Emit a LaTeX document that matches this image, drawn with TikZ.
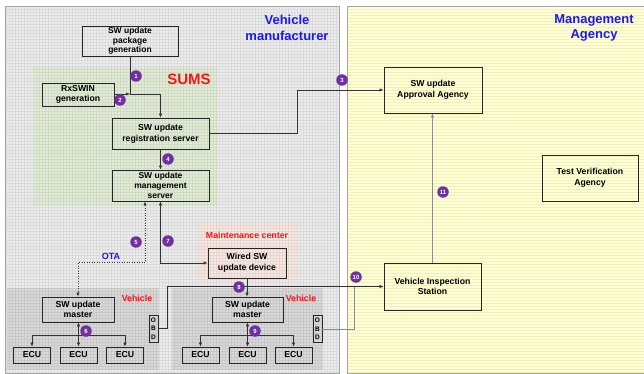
\documentclass[tikz,border=0pt]{standalone}
\usepackage{fontspec}
\setmainfont{Liberation Sans}
\usetikzlibrary{arrows.meta,calc}
\definecolor{leftbg}{HTML}{EEEEEE}
\definecolor{sumsgreen}{HTML}{E2EDD6}
\definecolor{maintpink}{HTML}{FAE9E2}
\definecolor{vehgray}{HTML}{DADADA}
\definecolor{yellowbg}{HTML}{FFFFD6}
\definecolor{numpurple}{HTML}{7030A0}
\definecolor{titleblue}{HTML}{1A1AF0}
\definecolor{redtxt}{HTML}{F01818}
\begin{document}
\begin{tikzpicture}[x=1pt,y=-1pt,
  box/.style={draw=black!85, line width=0.7pt, inner sep=0pt, align=center,
    font=\fontsize{8.7}{10.6}\selectfont\bfseries},
  box3/.style={box, font=\fontsize{8.5}{9.6}\selectfont\bfseries},
  ecu/.style={box, minimum width=37, minimum height=16},
  obd/.style={draw=black!85, line width=0.6pt, inner sep=0pt, align=center,
    minimum width=9, minimum height=27, font=\fontsize{6.5}{8.6}\selectfont\bfseries},
  num/.style={circle, fill=numpurple, inner sep=0pt, minimum size=11.5pt, text=white,
    font=\fontsize{6}{6}\selectfont\bfseries},
  arr/.style={-{Latex[length=4pt,width=3.2pt]}},
  barr/.style={{Latex[length=4pt,width=3.2pt]}-{Latex[length=4pt,width=3.2pt]}},
  conn/.style={draw=black!80, line width=0.5pt},
  gconn/.style={draw=black!45, line width=0.5pt},
  title/.style={align=center, text=titleblue, font=\fontsize{13}{15.5}\selectfont\bfseries},
  redlab/.style={text=redtxt, font=\fontsize{8.8}{9}\selectfont\bfseries},
]
\useasboundingbox (0,0) rectangle (644,374);
% ---- left panel
\fill[leftbg] (5,6) rectangle (339,373);
\fill[sumsgreen] (33,67) rectangle (218,206);
\fill[maintpink] (197,223) rectangle (298,282);
\fill[vehgray] (7,288) rectangle (159,370);
\fill[vehgray] (172,288) rectangle (323,370);
\begin{scope}
  \clip (5,6) rectangle (339,373);
  \draw[black, opacity=0.08, line width=0.3pt, step=3pt] (5,6) grid (339,373);
\end{scope}
\draw[gray!70, line width=0.6pt] (5,6) rectangle (339,373);
% ---- right panel
\fill[yellowbg] (347,6) rectangle (644,373);
\foreach \yy in {9,12,...,372} \draw[olive, opacity=0.12, line width=0.3pt] (347,\yy) -- (644,\yy);
\draw[gray!70, line width=0.6pt] (644,6) -- (347,6) -- (347,373) -- (644,373);

% ---- titles
\node[title] (tvm) at (287,28) {Vehicle\\manufacturer};
\node[title] (tma) at (594,28) {Management\\Agency};
\node[text=redtxt, font=\fontsize{15}{16}\selectfont\bfseries] (sums) at (189,79) {SUMS};
\node[redlab] (mc) at (247,235) {Maintenance center};
\node[redlab] (veh1) at (137,298) {Vehicle};
\node[redlab] (veh2) at (301,298) {Vehicle};
\node[text=titleblue, font=\fontsize{9}{9}\selectfont\bfseries] (ota) at (111,256) {OTA};

% ---- boxes
\node[box3, minimum width=96, minimum height=30] (pkg) at (130,41) {SW update\\package\\generation};
\node[box, minimum width=72, minimum height=23] (rx) at (78,94.5) {RxSWIN\\generation};
\node[box, minimum width=97, minimum height=31] (reg) at (160.5,133.5) {SW update\\registration server};
\node[box3, minimum width=97, minimum height=31] (mgmt) at (160.5,185.5) {SW update\\management\\server};
\node[box, minimum width=98, minimum height=46] (appr) at (433,90) {SW update\\Approval Agency};
\node[box, minimum width=96, minimum height=46] (tva) at (590,178) {Test Verification\\Agency};
\node[box, minimum width=97, minimum height=47] (vis) at (432.5,286.5) {Vehicle Inspection\\Station};
\node[box, minimum width=78, minimum height=30] (wired) at (247,263) {Wired SW\\update device};
\node[box, minimum width=72, minimum height=25] (m1) at (78,309.5) {SW update\\master};
\node[box, minimum width=71, minimum height=25] (m2) at (247.5,309.5) {SW update\\master};
\node[obd] (obd1) at (153.5,328.5) {O\\B\\D};
\node[obd] (obd2) at (317.5,329) {O\\B\\D};
\node[ecu] (e11) at (32,355) {ECU};
\node[ecu] (e12) at (78.5,355) {ECU};
\node[ecu] (e13) at (125,355) {ECU};
\node[ecu] (e21) at (200.5,355) {ECU};
\node[ecu] (e22) at (247.5,355) {ECU};
\node[ecu] (e23) at (293.5,355) {ECU};

% ---- connectors
\coordinate (j1) at (130,94);
\coordinate (j2) at (160.5,94);
\draw[conn] (pkg.south) -- (j1);
\draw[conn, arr] (rx.east |- j1) -- (j1);
\draw[conn, arr] (j1) -- (j2) -- (reg.north);
\draw[conn, arr] (reg.east) -- ++(88,0) |- (appr.west);
\draw[conn, arr] (reg.south) -- (mgmt.north);
\draw[conn, barr, dotted, line width=0.6pt] ([xshift=-15.5pt]mgmt.south) -- ++(0,61) -| (m1.north);
\draw[conn, barr] (mgmt.south) |- (wired.west);
\draw[conn, arr] (wired.south) -- (wired.south |- m2.north);
\draw[conn, arr] (obd1.east) -- ++(9,0) |- (vis.west);
\coordinate (j10) at (354,286.5);
\draw[gconn] (obd2.east) -| (j10);
\draw[gconn, arr] (vis.north) -- (vis.north |- appr.south);

% ECU branches
\coordinate (b1) at (78.5,335);
\draw[conn] (e11.north |- b1) -- (e13.north |- b1);
\draw[conn, arr] (e11.north |- b1) -- (e11.north);
\draw[conn, arr] (e13.north |- b1) -- (e13.north);
\draw[conn, barr] (e12.north) -- (e12.north |- m1.south);
\coordinate (b2) at (247.5,335);
\draw[conn] (e21.north |- b2) -- (e23.north |- b2);
\draw[conn, arr] (e21.north |- b2) -- (e21.north);
\draw[conn, arr] (e23.north |- b2) -- (e23.north);
\draw[conn, barr] (e22.north) -- (m2.south);

% ---- numbers
\node[num] (n1) at (136,76) {1};
\node[num] (n2) at (120,100) {2};
\node[num] (n3) at (342,80) {3};
\node[num] (n4) at (168,159) {4};
\node[num] (n5) at (136,242) {5};
\node[num] (n6) at (86,331) {6};
\node[num] (n7) at (168,241) {7};
\node[num] (n8) at (239,287) {8};
\node[num] (n9) at (255,331) {9};
\node[num] (n10) at (356,277) {10};
\node[num] (n11) at (443,192) {11};
\end{tikzpicture}
\end{document}
